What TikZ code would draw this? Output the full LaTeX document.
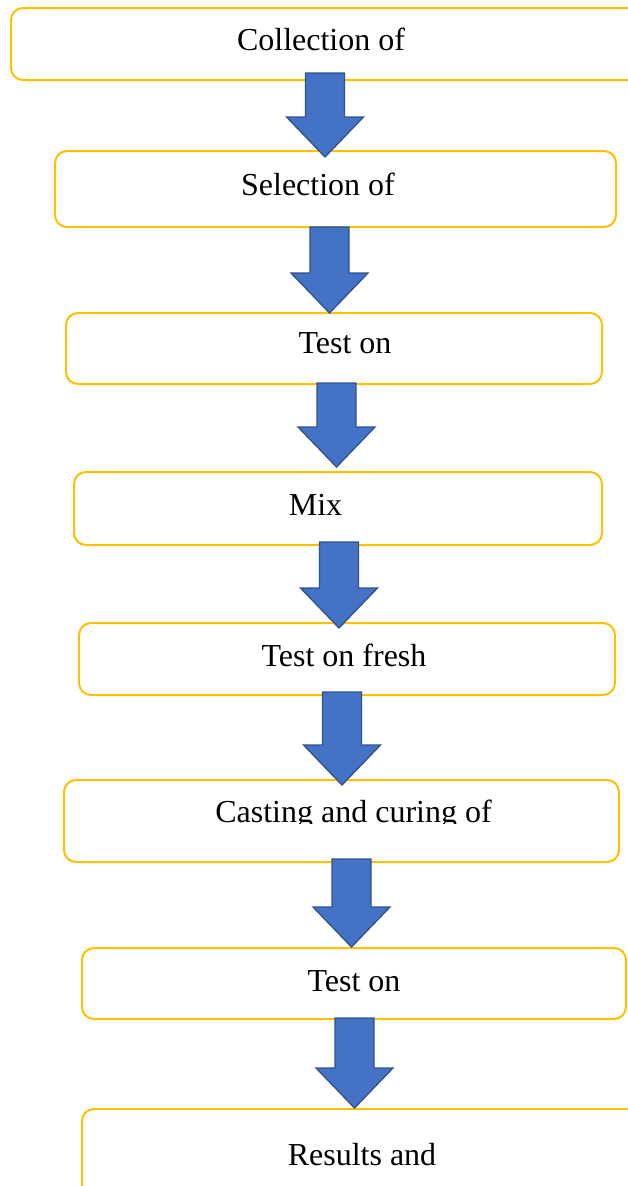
\documentclass[tikz,border=0pt]{standalone}
\usepackage{fontspec}
\setmainfont{Liberation Serif}
\usetikzlibrary{calc}

\definecolor{boxline}{HTML}{FFC000}
\definecolor{arrowfill}{HTML}{4472C4}
\definecolor{arrowline}{HTML}{2F528F}

% block arrow from #1 (top of shaft) down to #2 (tip)
\newcommand{\flowarrow}[2]{%
  \filldraw[blockarrow] ($(#1)+(-19.5,0)$) -- ($(#1)+(19.5,0)$) -- ($(#2)+(19.5,-40)$)
    -- ($(#2)+(38.5,-40)$) -- (#2) -- ($(#2)+(-38.5,-40)$) -- ($(#2)+(-19.5,-40)$) -- cycle;}

\begin{document}
\begin{tikzpicture}[x=1pt, y=-1pt,
    stepbox/.style = {rectangle, rounded corners=12pt, draw=boxline, line width=2pt, fill=white, inner sep=0pt},
    steptext/.style = {inner sep=0pt, anchor=base, font=\fontsize{32}{38}\selectfont},
    blockarrow/.style = {fill=arrowfill, draw=arrowline, line width=1.3pt, line join=miter}]
     \useasboundingbox (0,0) rectangle (628,1186);
     \clip (0,0) rectangle (628,1186);

     % boxes
     \node[stepbox, minimum width=634pt, minimum height=72pt] (collect) at (328,44) {};
     \node[stepbox, minimum width=561pt, minimum height=76pt] (select) at (335.5,189) {};
     \node[stepbox, minimum width=536pt, minimum height=71pt] (testmat) at (334,348.5) {};
     \node[stepbox, minimum width=528pt, minimum height=73pt] (mix) at (338,508.5) {};
     \node[stepbox, minimum width=536pt, minimum height=72pt] (fresh) at (347,659) {};
     \node[stepbox, minimum width=555pt, minimum height=82pt] (casting) at (341.5,821) {};
     \node[stepbox, minimum width=544pt, minimum height=71pt] (testhard) at (354,983.5) {};
     \node[stepbox, minimum width=578pt, minimum height=91pt] (results) at (371,1154.5) {};

     % texts
     \node[steptext] (collecttxt) at (321,50) {Collection of};
     \node[steptext] (selecttxt) at (318,195) {Selection of};
     \node[steptext] (testmattxt) at (345,353) {Test on};
     \node[steptext] (mixtxt) at (315.5,515) {Mix};
     \node[steptext] (freshtxt) at (344,666) {Test on fresh};
     \begin{scope}
       \clip (0,0) rectangle (628,823);
       \node[steptext] (castingtxt) at (353.5,822) {Casting and curing of};
     \end{scope}
     \node[steptext] (testhardtxt) at (354,991) {Test on};
     \node[steptext] (resultstxt) at (362,1165) {Results and};

     % arrows
     \coordinate (a1top) at (325,73);    \coordinate (a1tip) at (325,157);
     \coordinate (a2top) at (329.5,227); \coordinate (a2tip) at (329.5,313);
     \coordinate (a3top) at (336.5,383); \coordinate (a3tip) at (336.5,467);
     \coordinate (a4top) at (339,542);   \coordinate (a4tip) at (339,628);
     \coordinate (a5top) at (342,692);   \coordinate (a5tip) at (342,785);
     \coordinate (a6top) at (351.5,859); \coordinate (a6tip) at (351.5,947);
     \coordinate (a7top) at (354.5,1018); \coordinate (a7tip) at (354.5,1108);
     \flowarrow{a1top}{a1tip}
     \flowarrow{a2top}{a2tip}
     \flowarrow{a3top}{a3tip}
     \flowarrow{a4top}{a4tip}
     \flowarrow{a5top}{a5tip}
     \flowarrow{a6top}{a6tip}
     \flowarrow{a7top}{a7tip}
\end{tikzpicture}
\end{document}
